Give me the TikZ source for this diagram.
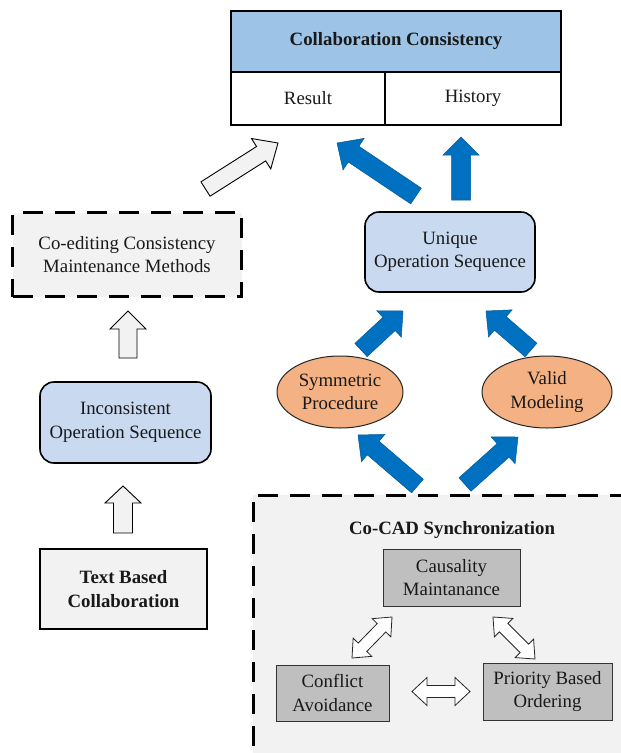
\documentclass[tikz,border=0pt]{standalone}
\usepackage{fontspec}
\setmainfont{Liberation Serif}
\usetikzlibrary{calc,shapes.geometric}
\definecolor{hdrblue}{HTML}{9DC3E6}
\definecolor{lblue}{HTML}{C9D9F0}
\definecolor{lgrey}{HTML}{F2F2F2}
\definecolor{mgrey}{HTML}{BFBFBF}
\definecolor{orng}{HTML}{F4B183}
\definecolor{arrblue}{HTML}{0070C0}
\newcommand\blockarrow[6]{%
  \coordinate (ba-h) at ($(#3)!#6!(#2)$);
  \draw[#1] ($(#2)!#4!90:(#3)$) -- ($(ba-h)!#4!-90:(#2)$) -- ($(ba-h)!#5!-90:(#2)$) -- (#3)
    -- ($(ba-h)!#5!90:(#2)$) -- ($(ba-h)!#4!90:(#2)$) -- ($(#2)!#4!-90:(#3)$) -- cycle;}
\newcommand\dblarrow[6]{%
  \coordinate (da-a) at ($(#2)!#6!(#3)$);
  \coordinate (da-b) at ($(#3)!#6!(#2)$);
  \draw[#1] (#2) -- ($(da-a)!#5!90:(#3)$) -- ($(da-a)!#4!90:(#3)$) -- ($(da-b)!#4!-90:(#2)$)
    -- ($(da-b)!#5!-90:(#2)$) -- (#3) -- ($(da-b)!#5!90:(#2)$) -- ($(da-b)!#4!90:(#2)$)
    -- ($(da-a)!#4!-90:(#3)$) -- ($(da-a)!#5!-90:(#3)$) -- cycle;}
\begin{document}
\begin{tikzpicture}[x=1pt,y=-1pt,
  txt/.style={font=\fontsize{18.8}{23.5}\selectfont, align=center, inner sep=0pt, text=black!90},
  cell/.style={txt, rectangle, draw=black, line width=2pt, fill=white},
  rbox/.style={txt, rectangle, draw=black, line width=1.6pt, rounded corners=14pt, fill=lblue},
  dbox/.style={txt, rectangle, draw=black, line width=3pt, dash pattern=on 20pt off 12pt, fill=lgrey},
  gbox/.style={txt, rectangle, draw=black!80, line width=1pt, fill=mgrey},
  ell/.style={txt, ellipse, draw=black!85, line width=1pt, fill=orng, inner sep=0pt},
  greyarr/.style={draw=black, line width=0.9pt, fill=lgrey, line join=miter},
  bluearr/.style={draw=arrblue!80!black, line width=0.5pt, fill=arrblue, line join=miter},
  dblarr/.style={draw=black!85, line width=0.8pt, fill=white, line join=miter}]
\clip (0,0) rectangle (621,753);
\fill[white] (0,0) rectangle (621,753);
% Co-CAD container
\node[dbox, minimum width=387pt, minimum height=275pt] (cocad) at (446.5,632.5) {};
\node[txt, font=\fontsize{18.8}{23.5}\selectfont\bfseries] (cotitle) at (452,530) {Co-CAD Synchronization};
% top table
\node[cell, fill=hdrblue, minimum width=330pt, minimum height=61pt, font=\fontsize{18.8}{23.5}\selectfont\bfseries] (head) at (396,41.5) {Collaboration Consistency};
\node[cell, minimum width=154pt, minimum height=53pt] (result) at (308,98.5) {Result};
\node[cell, minimum width=176pt, minimum height=53pt] (history) at (473,98.5) {History};
% boxes
\node[rbox, minimum width=170pt, minimum height=80pt] (unique) at (450,252) {Unique\\Operation Sequence};
\node[dbox, minimum width=229pt, minimum height=84pt] (coedit) at (127,254.5) {Co-editing Consistency\\Maintenance Methods};
\node[rbox, minimum width=171pt, minimum height=81pt] (incons) at (125.5,422.5) {Inconsistent\\Operation Sequence};
\node[txt, rectangle, draw=black, line width=1.6pt, fill=lgrey, minimum width=167pt, minimum height=80pt, font=\fontsize{18.8}{24}\selectfont\bfseries] (textb) at (123.5,589) {Text Based\\Collaboration};
\node[ell, minimum width=126pt, minimum height=72pt] (sym) at (340,392) {Symmetric\\Procedure};
\node[ell, minimum width=130pt, minimum height=72pt] (valid) at (547,392) {Valid\\Modeling};
\node[gbox, minimum width=137pt, minimum height=57pt] (causal) at (451.5,577.5) {Causality\\Maintanance};
\node[gbox, minimum width=113pt, minimum height=56pt] (conflict) at (332.5,693) {Conflict\\Avoidance};
\node[gbox, minimum width=129pt, minimum height=57pt] (priority) at (547.5,691.5) {Priority Based\\Ordering};
% arrow end points
\coordinate (g1s) at (205.5,189); \coordinate (g1e) at (278,143);
\coordinate (g2s) at (128,358); \coordinate (g2e) at (128,311);
\coordinate (g3s) at (123,533); \coordinate (g3e) at (123,486);
\coordinate (b1s) at (416,196); \coordinate (b1e) at (337,143);
\coordinate (b2s) at (461,200); \coordinate (b2e) at (461,137);
\coordinate (b3s) at (361,350); \coordinate (b3e) at (403,311);
\coordinate (b4s) at (531,350); \coordinate (b4e) at (486,311);
\coordinate (b5s) at (417.5,486); \coordinate (b5e) at (358,435);
\coordinate (b6s) at (465,484.5); \coordinate (b6e) at (518,437);
\coordinate (d1s) at (352,658); \coordinate (d1e) at (392,617);
\coordinate (d2s) at (493,617); \coordinate (d2e) at (535,659);
\coordinate (d3s) at (412,691.5); \coordinate (d3e) at (470,691.5);
% grey arrows
\blockarrow{greyarr}{g1s}{g1e}{8.5pt}{18pt}{20pt}
\blockarrow{greyarr}{g2s}{g2e}{9pt}{18pt}{18pt}
\blockarrow{greyarr}{g3s}{g3e}{9.5pt}{18pt}{17pt}
% blue arrows
\blockarrow{bluearr}{b1s}{b1e}{9.5pt}{19pt}{20pt}
\blockarrow{bluearr}{b2s}{b2e}{9.5pt}{18pt}{18pt}
\blockarrow{bluearr}{b3s}{b3e}{9pt}{18pt}{19pt}
\blockarrow{bluearr}{b4s}{b4e}{9pt}{18pt}{19pt}
\blockarrow{bluearr}{b5s}{b5e}{9pt}{18pt}{20pt}
\blockarrow{bluearr}{b6s}{b6e}{9pt}{18pt}{20pt}
% double arrows
\dblarrow{dblarr}{d1s}{d1e}{6pt}{13pt}{15pt}
\dblarrow{dblarr}{d2s}{d2e}{6pt}{13pt}{15pt}
\dblarrow{dblarr}{d3s}{d3e}{6pt}{14pt}{15pt}
\end{tikzpicture}
\end{document}
